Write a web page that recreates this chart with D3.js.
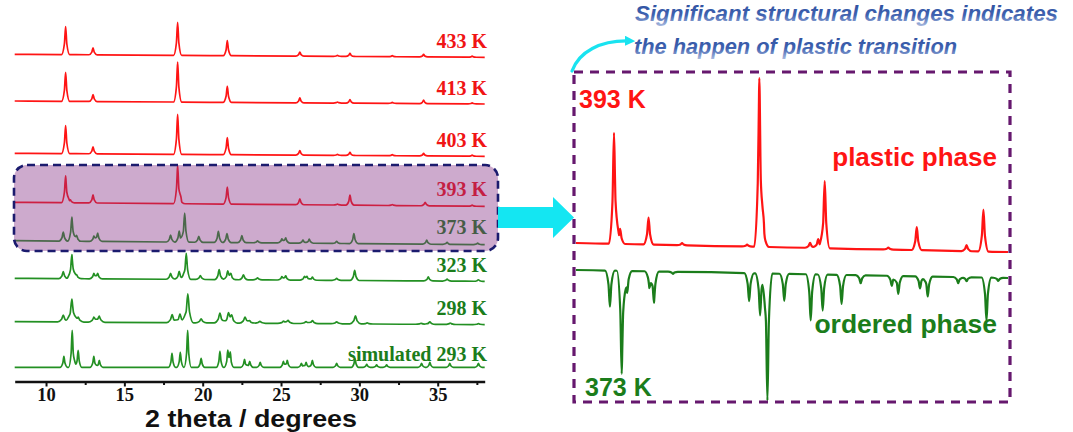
<!DOCTYPE html>
<html><head><meta charset="utf-8">
<script src="https://cdn.jsdelivr.net/npm/d3@7"></script>
<style>
html,body{margin:0;padding:0;background:#fff;}
svg{display:block;}
</style></head>
<body>
<svg id="chart" width="1073" height="432"></svg>
<script>
// ---------------- DATA ----------------
const leftTicks = [10, 15, 20, 25, 30, 35];
const leftMinorTicks = [12.5, 17.5, 22.5, 27.5, 32.5, 37.5];
const axisTitle = "2 theta / degrees";

const patternLabels = ["433 K", "413 K", "403 K", "393 K", "373 K", "323 K", "298 K", "simulated 293 K"];
const patternOffsets = [325.7, 279, 226.7, 177.7, 139.3, 101.7, 58.3, 12.7];
const patternDrift = [-3, -3, -3, -4, -4, -3, -3, 0];
const patternPhase = ["plastic", "plastic", "plastic", "plastic", "ordered", "ordered", "ordered", "ordered"];
const patternWidth = [0.26, 0.26, 0.26, 0.26, 0.27, 0.29, 0.36, 0.23];

const peaks433 = [[11.25,28],[13.0,7],[18.4,33],[21.57,15],[26.2,4],[28.6,1],[29.4,3],[32.1,1],[34.1,2.5],[37.2,1]];
const peaks413 = [[11.25,29],[13.0,7],[18.4,40],[21.57,16],[26.2,5],[28.6,1],[29.4,3.5],[32.1,1],[34.1,3.5],[37.2,1]];
const peaks403 = [[11.25,28],[13.0,7],[18.4,40],[21.57,17],[26.2,4.5],[28.6,1],[29.4,3],[32.1,1],[34.1,2.5],[37.2,1]];
const peaks393 = [[11.25,27],[11.55,3],[13.0,8],[18.4,38],[18.62,3],[21.57,17],[26.2,6],[28.6,1],[29.4,10],[32.1,1],[34.2,3.5],[37.2,1]];
const peaks373 = [[11.1,9],[11.65,24],[11.95,6],[13.05,5],[13.3,8],[17.95,7],[18.5,11],[18.85,29],[19.75,6],[21.0,11],[21.55,9],[22.5,7],[23.5,2],[25.05,4],[25.3,5],[26.4,3],[26.8,4],[28.55,2],[29.65,10],[34.3,4],[35.6,2],[37.55,1.5]];
const peaks323 = [[11.1,7],[11.65,24],[11.95,4],[13.05,5],[13.3,5],[17.95,6],[18.5,8],[18.95,26],[19.85,4],[21.05,10],[21.6,8],[21.8,5],[22.6,5],[23.5,2],[25.05,3],[25.3,4],[26.5,3],[26.65,3],[27.0,3],[28.55,2],[29.7,10],[34.4,4],[35.6,2],[37.6,1.5]];
const peaks298 = [[11.1,7],[11.65,23],[12.05,5],[13.05,5],[13.4,6],[18.05,8],[18.55,9],[19.05,29],[19.9,4],[21.1,10],[21.65,9],[21.85,6],[22.7,6],[23.0,2],[23.65,2],[25.15,2],[25.45,3],[26.6,2],[27.0,3],[28.55,2],[29.75,8],[30.5,1],[33.95,1],[34.5,2.5],[35.8,1.5],[37.6,1]];
const peaksSim = [[11.14,11],[11.67,37],[12.05,17],[13.05,11],[13.4,7],[18.04,14],[18.57,15],[19.04,37],[19.9,9],[21.1,16],[21.6,15],[21.76,13],[22.67,8],[23.0,6],[23.67,5],[25.15,6],[25.4,7],[26.3,4],[26.6,5],[27.0,7],[28.55,4],[29.72,9],[30.47,3],[31.1,2.5],[31.74,2.5],[33.97,4],[34.5,5],[35.77,4],[37.6,4]];
const patternPeaks = [peaks433, peaks413, peaks403, peaks393, peaks373, peaks323, peaks298, peaksSim];

// zoomed comparison (right panel)
const zoomRed393 = [[11.25,111],[11.55,15],[12.95,27],[14.6,2],[17.8,2],[18.4,168],[18.63,16],[20.9,5],[21.3,9],[21.62,67],[24.75,2],[26.15,23],[28.6,6],[29.43,42]];
const zoomGreen373 = [[11.05,36],[11.63,103],[11.9,22],[12.99,16],[13.22,31],[14.15,2],[17.9,28],[18.44,42],[18.8,127],[19.63,27],[20.93,46],[21.52,36],[22.45,29],[23.39,8],[24.92,10],[25.24,18],[26.31,12],[26.69,20],[28.19,6],[28.6,4],[29.58,43],[30.16,3]];
const zoomLabels = ["393 K", "373 K"];
const phaseLabels = ["plastic phase", "ordered phase"];
const noteLines = ["Significant structural changes indicates", "the happen of plastic transition"];

// ---------------- DRAW ----------------
const RED = "#ff1414", GREEN_LINE = "#239023", GREEN_TXT = "#1b7d1b";
const svg = d3.select("#chart");

const defs = svg.append("defs");
const grad = defs.append("linearGradient").attr("id","noteGrad").attr("x1",0).attr("y1",0).attr("x2",0).attr("y2",1);
grad.append("stop").attr("offset","0%").attr("stop-color","#2d4f9e");
grad.append("stop").attr("offset","55%").attr("stop-color","#3f62b0");
grad.append("stop").attr("offset","100%").attr("stop-color","#a9badf");
defs.append("marker").attr("id","cyanHead").attr("viewBox","0 0 10 10").attr("refX",5).attr("refY",5)
  .attr("markerWidth",3.2).attr("markerHeight",3.2).attr("orient","auto")
  .append("path").attr("d","M0,0 L10,5 L0,10 Z").attr("fill","#19e3f0");

// piecewise peak profile built from the peak list (knots only at peak foot/knee/apex)
function profile(peaks, w, drift, x0, x1) {
  const knee = 0.3, kneeH = 0.38;
  const knots = new Set([x0, x1]);
  peaks.forEach(([p]) => { [p - w, p - w*knee, p, p + w*knee, p + w].forEach(k => { if (k >= x0 && k <= x1) knots.add(+k.toFixed(4)); }); });
  return Array.from(knots).sort((a,b)=>a-b).map(x => {
    let y = drift * (x - x0) / (x1 - x0);
    peaks.forEach(([p,h]) => {
      const d = Math.abs(x - p) / w;
      if (d < 1) y += h * (d <= knee ? 1 - d * (1 - kneeH) / knee : kneeH * (1 - d) / (1 - knee));
    });
    return [x, y];
  });
}

// Left panel
const xL = d3.scaleLinear().domain([8, 38]).range([14.7, 484.7]);
const yL = d3.scaleLinear().domain([0, 360]).range([380, 20]);

const gL = svg.append("g");
patternPeaks.forEach((pk, i) => {
  const pts = profile(pk, patternWidth[i], patternDrift[i], 8, 38);
  const line = d3.line().x(d => xL(d[0])).y(d => yL(patternOffsets[i] + d[1])).curve(d3.curveMonotoneX);
  const col = patternPhase[i] === "plastic" ? RED : GREEN_LINE;
  gL.append("path").attr("d", line(pts)).attr("fill","none").attr("stroke",col).attr("stroke-width",1.7);
  gL.append("text").attr("x", 487).attr("y", yL(patternOffsets[i]) - 6.5)
    .attr("text-anchor","end").attr("font-family","'Liberation Serif', 'Times New Roman', serif")
    .attr("font-weight","bold").attr("font-size",20)
    .attr("fill", patternPhase[i] === "plastic" ? "#f01414" : GREEN_TXT)
    .text(patternLabels[i]);
});

// highlight box over 393 K / 373 K
svg.append("rect").attr("x",14).attr("y",165).attr("width",484).attr("height",86).attr("rx",13)
  .attr("fill","rgb(134,49,134)").attr("fill-opacity",0.41);
svg.append("rect").attr("x",14).attr("y",165).attr("width",484).attr("height",86).attr("rx",13)
  .attr("fill","none").attr("stroke","#1b1b6e").attr("stroke-width",2.6).attr("stroke-dasharray","8,5");

// axis
const axisG = svg.append("g").attr("transform","translate(0,381.5)");
axisG.call(d3.axisBottom(xL).tickValues(leftTicks).tickSize(5).tickSizeOuter(0).tickPadding(1.5).tickFormat(d3.format("d")));
axisG.select(".domain").attr("stroke","#111").attr("stroke-width",2.6);
axisG.selectAll(".tick line").attr("stroke","#111").attr("stroke-width",2);
axisG.selectAll(".tick text").attr("font-family","'Liberation Serif', 'Times New Roman', serif")
  .attr("font-weight","bold").attr("font-size",18.5).attr("fill","#111");
const minorG = svg.append("g").attr("transform","translate(0,381.5)");
minorG.call(d3.axisBottom(xL).tickValues(leftMinorTicks).tickSize(3.5).tickSizeOuter(0).tickFormat(""));
minorG.select(".domain").remove();
minorG.selectAll(".tick line").attr("stroke","#111").attr("stroke-width",2);

svg.append("text").attr("x",251).attr("y",427).attr("text-anchor","middle")
  .attr("font-family","'Liberation Sans', Arial, sans-serif").attr("font-weight","bold").attr("font-size",24)
  .attr("textLength",212).attr("lengthAdjust","spacingAndGlyphs")
  .attr("fill","#111").text(axisTitle);

// block arrow
svg.append("polygon").attr("points","498,207 553,207 553,197 574,217.5 553,238 553,228 498,228").attr("fill","#14e6f2");

// Right panel
const xR = d3.scaleLinear().domain([9.38, 30.64]).range([576, 1008]);
const yR = d3.scaleLinear().domain([0, 400]).range([400, 0]);
const redPts = profile(zoomRed393, 0.25, -9, 9.38, 30.64);
const greenPts = profile(zoomGreen373, 0.24, 8, 9.38, 30.64);
svg.append("path").attr("d", d3.line().x(d=>xR(d[0])).y(d=>yR(157 + d[1])).curve(d3.curveMonotoneX)(redPts))
  .attr("fill","none").attr("stroke",RED).attr("stroke-width",2.2);
svg.append("path").attr("d", d3.line().x(d=>xR(d[0])).y(d=>yR(130 - d[1])).curve(d3.curveMonotoneX)(greenPts))
  .attr("fill","none").attr("stroke",GREEN_TXT).attr("stroke-width",2.2);

svg.append("rect").attr("x",574).attr("y",72).attr("width",436).attr("height",330)
  .attr("fill","none").attr("stroke","#66186e").attr("stroke-width",3.2).attr("stroke-dasharray","9,7");

const sans = "'Liberation Sans', Arial, sans-serif";
svg.append("text").attr("x",579).attr("y",108).attr("font-family",sans).attr("font-weight","bold").attr("font-size",25)
  .attr("fill",RED).text(zoomLabels[0]);
svg.append("text").attr("x",585).attr("y",396).attr("font-family",sans).attr("font-weight","bold").attr("font-size",25)
  .attr("fill",GREEN_TXT).text(zoomLabels[1]);
svg.append("text").attr("x",997).attr("y",166).attr("text-anchor","end").attr("font-family",sans).attr("font-weight","bold").attr("font-size",26)
  .attr("fill",RED).text(phaseLabels[0]);
svg.append("text").attr("x",997).attr("y",333).attr("text-anchor","end").attr("font-family",sans).attr("font-weight","bold").attr("font-size",26.5)
  .attr("fill",GREEN_TXT).text(phaseLabels[1]);

// note text
svg.append("text").attr("x",635).attr("y",21).attr("font-family",sans).attr("font-weight","bold").attr("font-style","italic")
  .attr("font-size",21.5).attr("fill","url(#noteGrad)").attr("textLength",423).attr("lengthAdjust","spacingAndGlyphs").text(noteLines[0]);
svg.append("text").attr("x",634).attr("y",54).attr("font-family",sans).attr("font-weight","bold").attr("font-style","italic")
  .attr("font-size",21.5).attr("fill","url(#noteGrad)").attr("textLength",323).attr("lengthAdjust","spacingAndGlyphs").text(noteLines[1]);

// curved cyan arrow
svg.append("path").attr("d","M572,71 C579,52 600,40 630,41").attr("fill","none").attr("stroke","#19e3f0")
  .attr("stroke-width",3.2).attr("stroke-linecap","round").attr("marker-end","url(#cyanHead)");
</script>
</body></html>
